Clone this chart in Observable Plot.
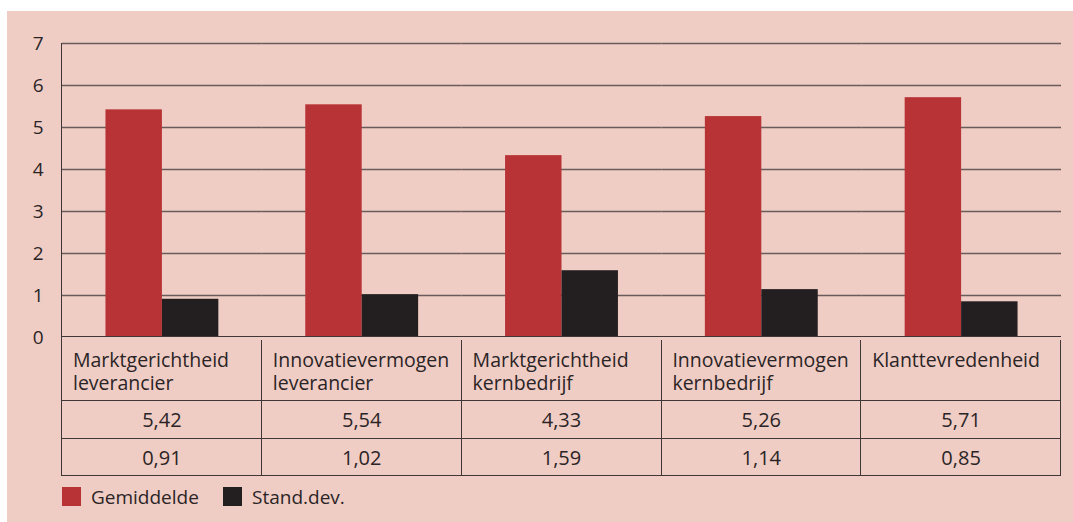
<!DOCTYPE html>
<html>
<head>
<meta charset="utf-8">
<script src="https://cdn.jsdelivr.net/npm/d3@7"></script>
<script src="https://cdn.jsdelivr.net/npm/@observablehq/plot@0.6"></script>
<style>
  html, body { margin: 0; padding: 0; background: #ffffff; }
  #panel { position: absolute; left: 7px; top: 11px; width: 1066px; height: 511px; background: #efcdc4; font-family: "Open Sans", sans-serif; color: #2b2426; overflow: hidden; }
  #chart { position: absolute; left: 0; top: 0; }
  .cell { position: absolute; box-sizing: border-box; }
  .hline { position: absolute; height: 0; border-top: 1.5px solid #3e3637; }
  .vline { position: absolute; width: 0; border-left: 1.5px solid #3e3637; }
  .legend { position: absolute; font-size: 19px; line-height: 19px; }
  .sw { position: absolute; width: 19px; height: 19px; }
</style>
</head>
<body>
<div id="panel"><div id="chart"></div></div>
<script>
const categories = ["Marktgerichtheid\nleverancier", "Innovatievermogen\nleverancier", "Marktgerichtheid\nkernbedrijf", "Innovatievermogen\nkernbedrijf", "Klanttevredenheid"];
const series = ["Gemiddelde", "Stand.dev."];
const gemiddelde = [5.42, 5.54, 4.33, 5.26, 5.71];
const standDev = [0.91, 1.02, 1.59, 1.14, 0.85];
const yTicks = [0, 1, 2, 3, 4, 5, 6, 7];
const colors = ["#b73335", "#231f20"];

const data = [];
categories.forEach((c, i) => {
  data.push({cat: c, series: series[0], value: gemiddelde[i]});
  data.push({cat: c, series: series[1], value: standDev[i]});
});

const chart = Plot.plot({
  width: 1066,
  height: 328,
  marginLeft: 55,
  marginRight: 12,
  marginTop: 32,
  marginBottom: 2,
  style: {background: "transparent", fontFamily: "Open Sans, sans-serif", fontSize: "19px", color: "#2b2426", overflow: "visible"},
  fx: {domain: categories, padding: 0, round: false, axis: null},
  x: {domain: series, paddingInner: 0, paddingOuter: 0.77, round: false, axis: null},
  y: {domain: [0, 7]},
  color: {domain: series, range: colors},
  marks: [
    Plot.gridY(yTicks.slice(1), {stroke: "#6b5c5c", strokeOpacity: 1, strokeWidth: 1.5}),
    Plot.barY(data, {fx: "cat", x: "series", y: "value", fill: "series"}),
    Plot.axisY(yTicks, {tickSize: 0, tickPadding: 19, label: null, line: true, stroke: "#3e3637", strokeWidth: 1.5, fill: "#2b2426", fontSize: 19})
  ]
});
const panel = document.getElementById("panel");
document.getElementById("chart").appendChild(chart);

// Table below the chart, aligned with the fx scale
const fx = chart.scale("fx");
const y = chart.scale("y");
const top0 = y.apply(0);
const rows = [top0, top0 + 64, top0 + 102, top0 + 139];
const left = fx.apply(categories[0]);
const right = fx.apply(categories[categories.length - 1]) + fx.bandwidth;

function add(cls, styles, text) {
  const d = document.createElement("div");
  d.className = cls;
  Object.assign(d.style, styles);
  if (text != null) d.textContent = text;
  panel.appendChild(d);
  return d;
}
rows.forEach(r => add("hline", {left: left + "px", top: (r - 0.75) + "px", width: (right - left) + "px"}));
categories.forEach((c, i) => {
  const x0 = fx.apply(c);
  const w = fx.bandwidth;
  add("vline", {left: (x0 - 0.75) + "px", top: (i === 0 ? top0 - 294 : top0 + 3) + "px", height: (i === 0 ? rows[3] - top0 + 294 : rows[3] - top0 - 3) + "px"});
  add("cell", {left: x0 + "px", top: rows[0] + "px", width: w + "px", height: "64px", padding: "11px 0 0 11px", fontSize: "19.5px", lineHeight: "23px", whiteSpace: "pre"}, c);
  add("cell", {left: x0 + "px", top: rows[1] + "px", width: w + "px", height: "38px", fontSize: "20px", lineHeight: "38px", textAlign: "center"}, gemiddelde[i].toFixed(2).replace(".", ","));
  add("cell", {left: x0 + "px", top: rows[2] + "px", width: w + "px", height: "37px", fontSize: "20px", lineHeight: "37px", textAlign: "center"}, standDev[i].toFixed(2).replace(".", ","));
});
add("vline", {left: (right - 0.75) + "px", top: (top0 + 3) + "px", height: (rows[3] - top0 - 3) + "px"});

// Legend
const legY = 476;
const legX = [left, left + 161];
series.forEach((s, i) => {
  add("sw", {left: legX[i] + "px", top: legY + "px", background: colors[i]});
  add("legend", {left: (legX[i] + 29) + "px", top: (legY + 1) + "px"}, s);
});
</script>
</body>
</html>
